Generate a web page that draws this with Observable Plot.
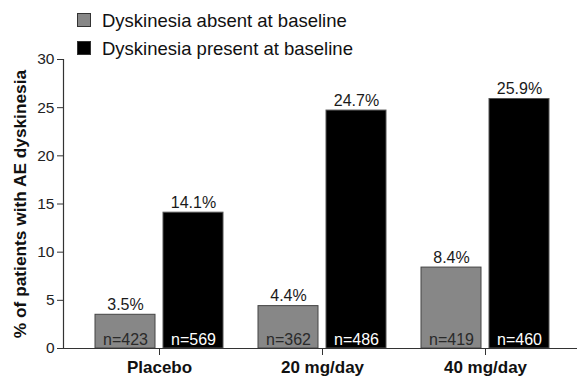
<!DOCTYPE html>
<html>
<head>
<meta charset="utf-8">
<script src="https://cdn.jsdelivr.net/npm/d3@7"></script>
<script src="https://cdn.jsdelivr.net/npm/@observablehq/plot@0.6"></script>
<style>
  body { margin: 0; background: #fff; font-family: "Liberation Sans", Arial, sans-serif; }
  #wrap { width: 577px; position: relative; }
  #legend { position: relative; height: 46px; }
  .sw { position: absolute; left: 77px; width: 12px; height: 12px; border: 1px solid #333; }
  .lt { position: absolute; left: 102px; font-size: 18.5px; color: #111; line-height: 22px; white-space: nowrap; }
  svg { display: block; overflow: visible; }
</style>
</head>
<body>
<div id="wrap">
  <div id="legend"></div>
  <div id="chart"></div>
</div>
<script>
const groups = ["Placebo", "20 mg/day", "40 mg/day"];
const seriesNames = ["Dyskinesia absent at baseline", "Dyskinesia present at baseline"];
const seriesColors = ["#878787", "#000000"];
const absentPct = [3.5, 4.4, 8.4];
const presentPct = [14.1, 24.7, 25.9];
const absentN = [423, 362, 419];
const presentN = [569, 486, 460];
const yTicks = [0, 5, 10, 15, 20, 25, 30];
const yLabel = "% of patients with AE dyskinesia";

// legend
const legend = document.getElementById("legend");
seriesNames.forEach((name, i) => {
  const sw = document.createElement("div");
  sw.className = "sw";
  sw.style.top = (13 + i * 28) + "px";
  sw.style.background = seriesColors[i];
  legend.appendChild(sw);
  const t = document.createElement("div");
  t.className = "lt";
  t.style.top = (10 + i * 28) + "px";
  t.textContent = name;
  legend.appendChild(t);
});

const absent = groups.map((g, i) => ({group: g, pct: absentPct[i], n: absentN[i]}));
const present = groups.map((g, i) => ({group: g, pct: presentPct[i], n: presentN[i]}));

const fmt = v => v.toFixed(1) + "%";

const chart = Plot.plot({
  width: 577,
  height: 330,
  marginLeft: 63,
  marginRight: 0,
  marginTop: 13,
  marginBottom: 28,
  style: {fontFamily: "'Liberation Sans', Arial, sans-serif", background: "#fff", color: "#222", overflow: "visible"},
  x: {domain: groups, paddingInner: 0.213, paddingOuter: 0.174, align: 0.53, label: null},
  y: {domain: [0, 30], label: null},
  marks: [
    Plot.barY(absent, {x: "group", y: "pct", fill: seriesColors[0], stroke: "#444", strokeWidth: 1, insetRight: 68}),
    Plot.barY(present, {x: "group", y: "pct", fill: seriesColors[1], stroke: "#555", strokeWidth: 1, insetLeft: 68}),
    Plot.text(absent, {x: "group", y: "pct", text: d => fmt(d.pct), dx: -34, dy: -5, lineAnchor: "bottom", fontSize: 16, fill: "#1a1a1a"}),
    Plot.text(present, {x: "group", y: "pct", text: d => fmt(d.pct), dx: 34, dy: -5, lineAnchor: "bottom", fontSize: 16, fill: "#1a1a1a"}),
    Plot.text(absent, {x: "group", y: 0, text: d => "n=" + d.n, dx: -34, dy: -4, lineAnchor: "bottom", fontSize: 16, fill: "#2a2a2a"}),
    Plot.text(present, {x: "group", y: 0, text: d => "n=" + d.n, dx: 34, dy: -4, lineAnchor: "bottom", fontSize: 16, fill: "#ffffff"}),
    Plot.frame({anchor: "left", stroke: "#333", strokeWidth: 1.2}),
    Plot.ruleY([0], {stroke: "#333", strokeWidth: 1.2}),
    Plot.axisY({ticks: yTicks, tickSize: 6, tickPadding: 3, fontSize: 15.5, label: null, stroke: "#333", color: "#222"}),
    Plot.axisX({tickSize: 7, tickPadding: 5, fontSize: 17, fontWeight: "bold", label: null, color: "#111", stroke: "#333"}),
    Plot.text([yLabel], {frameAnchor: "left", text: d => d, rotate: -90, textAnchor: "middle", dx: -43, dy: 0, fontSize: 17.3, fontWeight: "bold", fill: "#111"})
  ]
});
document.getElementById("chart").appendChild(chart);
</script>
</body>
</html>
